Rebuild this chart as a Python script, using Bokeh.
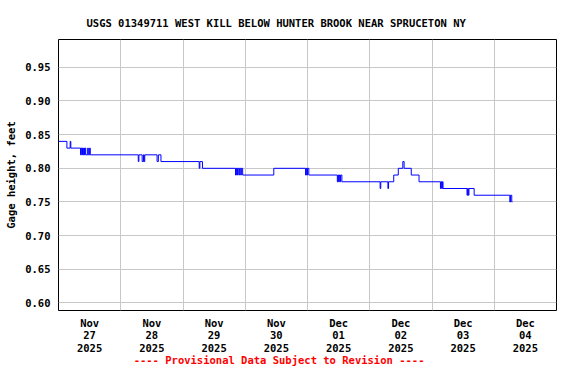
from bokeh.plotting import figure
from bokeh.models import Range1d, FixedTicker
from bokeh.embed import file_html
from bokeh.resources import INLINE

# ---- data: gage height change points (hours since 2025-11-27 00:00, feet) ----
change_hours = [0, 3.24, 4.5, 4.75, 8.5, 8.75, 9.0, 9.25, 9.5, 9.75, 10.0, 10.25,
                10.5, 11.25, 11.5, 12.0, 12.25, 30.75, 31.0, 32.25, 32.75, 33.0,
                33.25, 38.0, 38.5, 39.5, 54.25, 54.5, 55.5, 68.25, 68.5, 68.75,
                69.0, 69.5, 69.75, 70.25, 70.5, 71.0, 83.0, 95.25, 95.5, 95.75,
                96.0, 96.5, 107.5, 107.75, 108.0, 108.25, 108.5, 108.75, 109.25,
                124.0, 124.25, 127.0, 127.25, 129.25, 131.0, 132.75, 133.25,
                136.0, 139.0, 147.25, 147.5, 147.75, 148.0, 148.25, 157.5,
                157.75, 158.0, 158.25, 160.25, 174.0, 174.25, 174.75, 175.0]
gage_ft = [0.84, 0.83, 0.84, 0.83, 0.82, 0.83, 0.82, 0.83, 0.82, 0.83, 0.82, 0.83,
           0.82, 0.83, 0.82, 0.83, 0.82, 0.81, 0.82, 0.81, 0.82, 0.81,
           0.82, 0.81, 0.82, 0.81, 0.80, 0.81, 0.80, 0.79, 0.80, 0.79,
           0.80, 0.79, 0.80, 0.79, 0.80, 0.79, 0.80, 0.79, 0.80, 0.79,
           0.80, 0.79, 0.78, 0.79, 0.78, 0.79, 0.78, 0.79, 0.78,
           0.77, 0.78, 0.77, 0.78, 0.79, 0.80, 0.81, 0.80,
           0.79, 0.78, 0.77, 0.78, 0.77, 0.78, 0.77, 0.76,
           0.77, 0.76, 0.77, 0.76, 0.75, 0.76, 0.75, 0.75]

day_label_hours = [12, 36, 60, 84, 108, 132, 156, 180]
day_labels = ["Nov\n27\n2025", "Nov\n28\n2025", "Nov\n29\n2025", "Nov\n30\n2025",
              "Dec\n01\n2025", "Dec\n02\n2025", "Dec\n03\n2025", "Dec\n04\n2025"]
midnight_hours = [24, 48, 72, 96, 120, 144, 168]
y_ticks = [0.60, 0.65, 0.70, 0.75, 0.80, 0.85, 0.90, 0.95]

title_text = "USGS 01349711 WEST KILL BELOW HUNTER BROOK NEAR SPRUCETON NY"
footer_text = "---- Provisional Data Subject to Revision ----"

FONT = "DejaVu Sans Mono"
FS = "10.5px"

p = figure(width=560, height=368, output_backend="svg", toolbar_location=None,
           x_range=Range1d(0, 192), y_range=Range1d(0.5888, 0.9913),
           min_border_left=58, min_border_right=4, min_border_top=39,
           min_border_bottom=52)

p.background_fill_color = "white"
p.border_fill_color = "white"
p.outline_line_color = "black"
p.outline_line_width = 1
p.outline_line_alpha = 1

p.title.text = title_text
p.title.text_font = FONT
p.title.text_font_size = FS
p.title.text_font_style = "bold"
p.title.text_color = "black"
p.title.align = "left"
p.title.offset = 28
p.title.vertical_align = "top"
p.title.standoff = 17

p.step(change_hours, gage_ft, mode="after", line_color="#0000ff", line_width=1)

# axes
xa = p.xaxis[0]
xa.ticker = FixedTicker(ticks=day_label_hours)
xa.major_label_overrides = {h: lab for h, lab in zip(day_label_hours, day_labels)}
xa.major_tick_out = 0
xa.major_tick_in = 0
xa.minor_tick_out = 0
xa.minor_tick_in = 0
xa.axis_line_color = None
xa.major_label_text_font = FONT
xa.major_label_text_font_size = FS
xa.major_label_text_font_style = "bold"
xa.major_label_text_color = "black"
xa.major_label_text_line_height = 1.06
xa.major_label_standoff = 6
# footer carried as the x-axis label (trailing no-break spaces shift it left)
xa.axis_label = footer_text + "\u00a0" * 9
xa.axis_label_text_font = FONT
xa.axis_label_text_font_size = FS
xa.axis_label_text_font_style = "bold"
xa.axis_label_text_color = "red"
xa.axis_label_standoff = -3

ya = p.yaxis[0]
ya.ticker = FixedTicker(ticks=y_ticks)
ya.major_label_overrides = {t: "%.2f" % t for t in y_ticks}
ya.major_tick_out = 0
ya.major_tick_in = 0
ya.minor_tick_out = 0
ya.minor_tick_in = 0
ya.axis_line_color = None
ya.major_label_text_font = FONT
ya.major_label_text_font_size = FS
ya.major_label_text_font_style = "bold"
ya.major_label_text_color = "black"
ya.major_label_standoff = 8
ya.axis_label = "Gage height, feet"
ya.axis_label_text_font = FONT
ya.axis_label_text_font_size = FS
ya.axis_label_text_font_style = "bold"
ya.axis_label_text_color = "black"
ya.axis_label_standoff = 5

# grids
p.xgrid.ticker = FixedTicker(ticks=midnight_hours)
p.xgrid.grid_line_color = "#c8c8c8"
p.xgrid.grid_line_width = 1
p.ygrid.grid_line_color = "#c8c8c8"
p.ygrid.grid_line_width = 1

open("out.html", "w").write(file_html(p, INLINE))
